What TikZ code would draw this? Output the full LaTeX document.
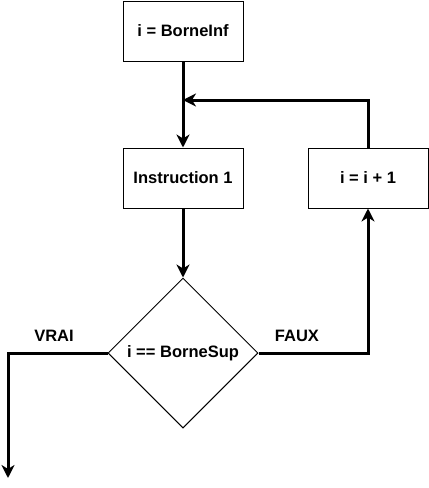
\documentclass[tikz,border=0pt]{standalone}
\usepackage{fontspec}
\setmainfont{Liberation Sans}
\usetikzlibrary{arrows.meta,shapes.geometric}
\begin{document}
\begin{tikzpicture}[x=1pt,y=-1pt,
  box/.style={draw,line width=1pt,minimum width=120pt,minimum height=60pt,inner sep=0pt,fill=white},
  dec/.style={draw,line width=1pt,diamond,minimum width=150pt,minimum height=150pt,inner sep=0pt,aspect=1},
  lab/.style={font=\fontsize{16.5}{20}\selectfont\bfseries},
  conn/.style={line width=3pt,-{Stealth[length=13pt,width=13pt,inset=4pt]}},
  line/.style={line width=3pt}]
\useasboundingbox (0,0) rectangle (429,488);
\node[box,lab] (init) at (183,31) {i = BorneInf};
\node[box,lab] (instr) at (183,178) {Instruction 1};
\node[box,lab] (incr) at (368,178) {i = i + 1};
\node[dec,lab] (test) at (183,353) {};
\node[lab] (testtxt) at (183,353) {i == BorneSup};
\node[lab] (vrai) at (54,336) {VRAI};
\node[lab] (faux) at (297,336) {FAUX};
\coordinate (join) at (183,100);
\coordinate (out) at (8,478);
\draw[conn] (init.south) -- (instr.north);
\draw[conn] (instr.south) -- (test.north);
\draw[conn] (test.east) -| (incr.south);
\draw[conn] (incr.north) |- (join);
\draw[conn] (test.west) -| (out);
\end{tikzpicture}
\end{document}
